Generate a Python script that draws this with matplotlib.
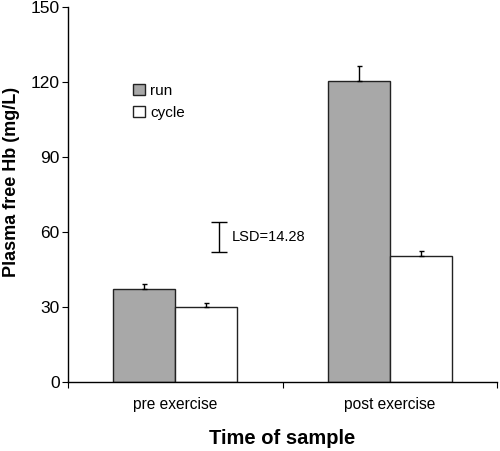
import numpy as np
import matplotlib
matplotlib.use('Agg')
import matplotlib.pyplot as plt

plt.rcParams['font.family'] = ['Liberation Sans', 'DejaVu Sans']

# данные
categories = ['pre exercise', 'post exercise']
run_vals = [37.1, 120.3]
run_err = [2.0, 6.0]
cycle_vals = [30.1, 50.2]
cycle_err = [1.3, 2.0]
lsd_low, lsd_high = 52, 64
lsd_label = 'LSD=14.28'

fig = plt.figure(figsize=(5, 4.51), dpi=100)
ax = fig.add_axes([0.136, 0.153, 0.858, 0.8315])

x = np.arange(len(categories)) + 0.5
w = 0.288

ekw = dict(ecolor='black', elinewidth=1, capsize=1.8, capthick=1)
ax.bar(x - w / 2, run_vals, w, color='#a8a8a8', edgecolor='#222222', linewidth=1.0,
       yerr=[[0, 0], run_err], error_kw=ekw, label='run')
ax.bar(x + w / 2, cycle_vals, w, color='white', edgecolor='#222222', linewidth=1.0,
       yerr=[[0, 0], cycle_err], error_kw=ekw, label='cycle')

# LSD-столбик
lsd_x = 0.703
ax.errorbar([lsd_x], [(lsd_low + lsd_high) / 2], yerr=[(lsd_high - lsd_low) / 2],
            fmt='none', ecolor='black', elinewidth=1, capsize=5.7, capthick=1)
ax.text(lsd_x + 0.062, (lsd_low + lsd_high) / 2, lsd_label, fontsize=10.5, va='center')

ax.set_xlim(0, 2)
ax.set_ylim(0, 150)
ax.set_yticks([0, 30, 60, 90, 120, 150])
ax.set_xticks([0, 1, 2])
ax.set_xticklabels([])
ax.set_xticks(x, minor=True)
ax.set_xticklabels(categories, minor=True, fontsize=11.2)
ax.tick_params(axis='x', which='minor', length=0, pad=11)
ax.tick_params(axis='x', which='major', length=4, direction='out')
ax.tick_params(axis='y', length=4, direction='out', labelsize=12.5, pad=2)

for s in ['top', 'right']:
    ax.spines[s].set_visible(False)
ax.spines['left'].set_linewidth(1)
ax.spines['bottom'].set_linewidth(1)

ax.set_ylabel('Plasma free Hb (mg/L)', fontsize=13, fontweight='bold')
ax.yaxis.set_label_coords(-0.112, 0.533)
ax.set_xlabel('Time of sample', fontsize=14.5, fontweight='bold', labelpad=12)

ax.legend(loc='upper left', bbox_to_anchor=(0.152, 0.795), frameon=False, fontsize=11,
          borderpad=0, borderaxespad=0,
          handlelength=0.75, handleheight=0.75, handletextpad=0.35, labelspacing=0.5)

fig.savefig('out.png', dpi=100)
